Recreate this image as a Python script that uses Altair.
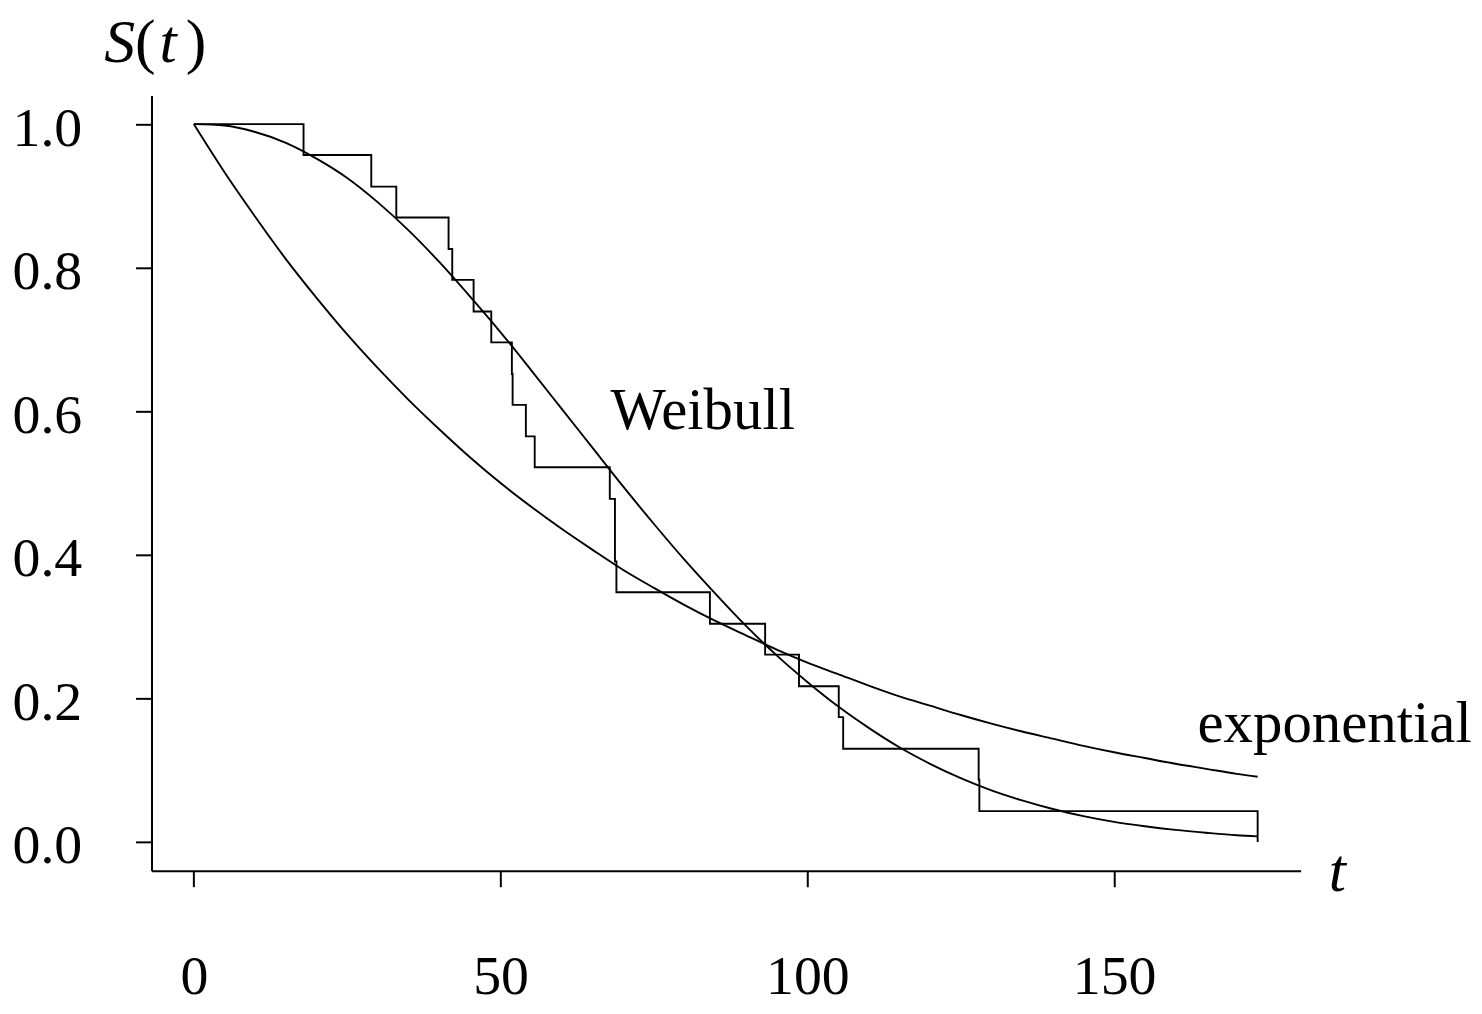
import altair as alt
import pandas as pd

# Kaplan-Meier estimate (step function)
km_t = [0, 17.88, 28.92, 33.00, 41.52, 42.12, 45.60, 48.48, 51.84, 51.96, 54.12,
        55.56, 67.80, 68.64, 68.88, 84.12, 93.12, 98.64, 105.12, 105.84, 127.92,
        128.04, 173.40]
km_s = [1.000, 0.957, 0.913, 0.870, 0.826, 0.783, 0.739, 0.696, 0.652, 0.609, 0.565,
        0.522, 0.478, 0.391, 0.348, 0.304, 0.261, 0.217, 0.174, 0.130, 0.087,
        0.043, 0.000]

# fitted curves
curve_t = [0, 5, 10, 15, 20, 25, 30, 35, 40, 45, 50, 55, 60, 65, 70, 75, 80, 85,
           90, 95, 100, 105, 110, 115, 120, 125, 130, 135, 140, 145, 150, 155,
           160, 165, 170, 173.4]
weibull_s = [1.000, 0.998, 0.989, 0.974, 0.952, 0.925, 0.891, 0.852, 0.808, 0.760,
             0.710, 0.657, 0.603, 0.549, 0.495, 0.443, 0.393, 0.346, 0.301, 0.260,
             0.223, 0.189, 0.159, 0.132, 0.109, 0.089, 0.072, 0.058, 0.046, 0.036,
             0.028, 0.022, 0.017, 0.013, 0.0095, 0.0079]
expo_s = [1.000, 0.933, 0.871, 0.812, 0.758, 0.707, 0.660, 0.616, 0.575, 0.536,
          0.500, 0.467, 0.436, 0.407, 0.379, 0.354, 0.330, 0.308, 0.288, 0.268,
          0.250, 0.234, 0.218, 0.203, 0.190, 0.177, 0.165, 0.154, 0.144, 0.134,
          0.125, 0.117, 0.109, 0.102, 0.095, 0.091]

# curve labels
curve_text = ["Weibull", "exponential"]
curve_x = [67.9, 163.6]
curve_y = [0.576, 0.139]
# y-axis title S(t), built from upright and italic pieces
paren_text = ["(", ")"]
paren_x = [-9.6, -1.3]
paren_y = [1.087, 1.087]
italic_text = ["S", "t", "t"]
italic_x = [-14.6, -5.6, 185.0]
italic_y = [1.087, 1.087, -0.068]

x_ticks = [0, 50, 100, 150]
y_ticks = [0.0, 0.2, 0.4, 0.6, 0.8, 1.0]

FONT = "Liberation Serif"
FS = 56

km_df = pd.DataFrame({"t": km_t, "S": km_s})
wb_df = pd.DataFrame({"t": curve_t, "S": weibull_s})
ex_df = pd.DataFrame({"t": curve_t, "S": expo_s})
cl_df = pd.DataFrame({"t": curve_x, "S": curve_y, "label": curve_text})
pa_df = pd.DataFrame({"t": paren_x, "S": paren_y, "label": paren_text})
it_df = pd.DataFrame({"t": italic_x, "S": italic_y, "label": italic_text})

xscale = alt.Scale(domain=[-6.9, 180.4], nice=False, zero=False)
yscale = alt.Scale(domain=[-0.04, 1.04], nice=False, zero=False)

xaxis = alt.Axis(values=x_ticks, title=None, grid=False, tickSize=16, tickWidth=2,
                 domainWidth=2, domainColor="black", tickColor="black",
                 labelColor="black", labelFont=FONT, labelFontSize=FS,
                 labelBaseline="alphabetic", labelPadding=107, labelFlush=False,
                 labelOverlap=False)
yaxis = alt.Axis(values=y_ticks, format=".1f", title=None, grid=False, tickSize=16,
                 tickWidth=2, domainWidth=2, domainColor="black", tickColor="black",
                 labelColor="black", labelFont=FONT, labelFontSize=FS,
                 labelBaseline="alphabetic", labelOffset=21, labelPadding=54,
                 labelFlush=False, labelOverlap=False)

km = alt.Chart(km_df).mark_line(interpolate="step-after", color="black",
                                strokeWidth=1.9).encode(
    x=alt.X("t:Q", scale=xscale, axis=xaxis),
    y=alt.Y("S:Q", scale=yscale, axis=yaxis),
)
wb = alt.Chart(wb_df).mark_line(interpolate="monotone", color="black",
                                strokeWidth=1.9).encode(
    x=alt.X("t:Q", scale=xscale), y=alt.Y("S:Q", scale=yscale))
ex = alt.Chart(ex_df).mark_line(interpolate="monotone", color="black",
                                strokeWidth=1.9).encode(
    x=alt.X("t:Q", scale=xscale), y=alt.Y("S:Q", scale=yscale))

cl = alt.Chart(cl_df).mark_text(align="left", baseline="alphabetic", font=FONT,
                                fontSize=59, color="black").encode(
    x=alt.X("t:Q", scale=xscale), y=alt.Y("S:Q", scale=yscale), text="label:N")
pa = alt.Chart(pa_df).mark_text(align="left", baseline="alphabetic", font=FONT,
                                fontSize=62, color="black").encode(
    x=alt.X("t:Q", scale=xscale), y=alt.Y("S:Q", scale=yscale), text="label:N")
it = alt.Chart(it_df).mark_text(align="left", baseline="alphabetic", font=FONT,
                                fontSize=62, fontStyle="italic", color="black").encode(
    x=alt.X("t:Q", scale=xscale), y=alt.Y("S:Q", scale=yscale), text="label:N")

chart = alt.layer(km, wb, ex, cl, pa, it).properties(
    width=1153, height=778,
    autosize=alt.AutoSizeParams(type="none"),
    padding={"left": 144, "top": 86, "right": 174, "bottom": 133},
    background="white",
).configure_view(stroke=None)

chart.save("out.html", embed_options={"renderer": "svg", "actions": False})
